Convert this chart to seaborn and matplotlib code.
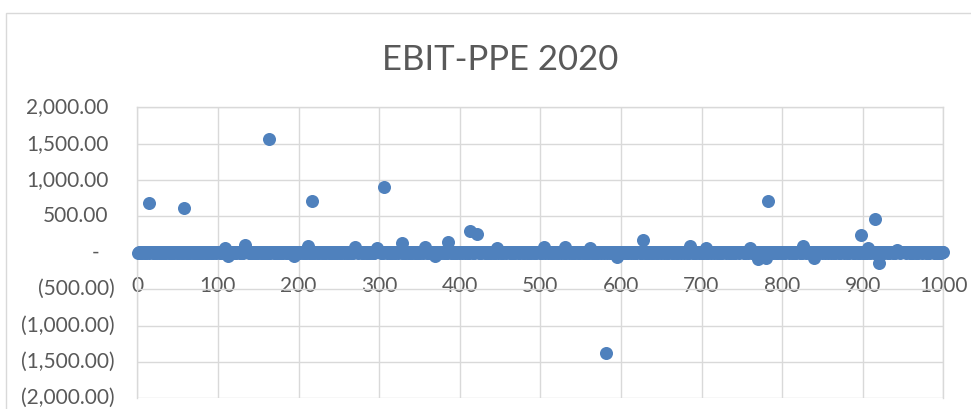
import numpy as np
import pandas as pd
import matplotlib
matplotlib.use("Agg")
import matplotlib.pyplot as plt
import matplotlib.transforms as mtransforms
from matplotlib.patches import Rectangle
import seaborn as sns

# EBIT / PPE ratio per firm (firms numbered 1..1000), most close to zero
baseline = [
    4, 9, -2, 6, 13, 1, 5, 8, -4, 10, 3, 7, 15, 2, -3, 11, 5, 9, 0, 7, 12, -1, 4, 6, 10,
    8, 3, 14, -4, 7, 2, 11, 0, 6, 9, -2, 13, 5, 1, 10, 7, -6, 3, 12, 8, 2, 6, 14, 0, 5,
    11, -3, 6, 9, 2, 16, 4, -1, 8, 12, 3, 7, 0, 10, 5, -5, 9, 13, 2, 6, 8, -2, 11, 4, 7,
    2, 10, 5, -7, 12, 8, 1, 6, 15, 3, -1, 9, 4, 11, 7, 0, 13, 6, -3, 8, 5, 10, 2, 14, 6,
    9, 1, 7, 12, -2, 5, 10, 3, 8, -4, 11, 6, 2, 15, 7, 4, -1, 9, 12, 3, 6, 0, 10, 5, 8,
    6, 13, 0, 4, 9, -3, 7, 11, 2, 5, 14, 8, -2, 6, 10, 1, 12, 4, 7, -5, 9, 3, 11, 6, 2,
    12, 5, 8, -1, 10, 3, 6, 14, 0, 9, 4, -6, 11, 7, 2, 13, 5, 8, -2, 10, 6, 1, 9, 15, 3,
    0, 7, 11, 4, -3, 9, 6, 12, 2, 8, 5, -1, 14, 3, 10, 7, 0, 6, 11, -4, 8, 2, 13, 5, 9,
    7, -2, 10, 5, 13, 1, 8, 4, -5, 11, 6, 9, 2, 15, 0, 7, 12, 3, -1, 9, 5, 10, 4, 8, 14,
    3, 11, 6, 0, 9, 14, -3, 7, 2, 12, 5, 8, -1, 10, 4, 6, 13, 1, 9, -4, 7, 11, 3, 5, 10,
    10, 4, -2, 8, 13, 6, 1, 11, 5, -5, 9, 3, 14, 7, 0, 12, 6, 2, 10, -3, 8, 5, 13, 1, 7,
    5, 12, 8, 2, -1, 10, 6, 15, 3, 9, -4, 7, 11, 0, 6, 13, 4, 8, -2, 12, 5, 1, 9, 6, 11,
    8, 0, 13, 6, 3, -6, 11, 5, 9, 2, 14, 7, -1, 10, 4, 8, 12, 3, 6, -3, 11, 7, 2, 9, 5,
    13, 6, 1, 10, 7, 4, -2, 12, 8, 5, 0, 11, 3, 9, 15, -4, 6, 10, 2, 8, 13, 4, -1, 7, 11,
    2, 9, 14, -3, 6, 11, 5, 8, 1, 13, 7, -5, 10, 4, 12, 6, 0, 9, 3, 14, -2, 8, 5, 11, 6,
    9, 4, 7, 12, 0, 8, 15, 3, -2, 10, 6, 11, 5, -6, 9, 13, 2, 7, 4, 10, 1, 12, 8, -3, 6,
    6, 11, 3, 9, 14, -1, 5, 8, 12, 2, 7, -4, 10, 6, 13, 0, 9, 4, 11, 7, -2, 5, 14, 3, 8,
    11, -3, 8, 5, 10, 2, 13, 7, 0, 9, 4, 12, 6, -5, 11, 8, 3, 14, 1, 7, 10, 5, -1, 9, 12,
    4, 8, 12, 1, 7, 10, -2, 6, 13, 5, 9, 0, 11, 3, 8, -4, 12, 6, 2, 10, 7, 15, 4, -1, 9,
    7, 13, 2, 10, -3, 6, 9, 4, 12, 8, 1, 14, 5, -2, 10, 7, 3, 11, 6, 0, 9, 13, 5, 8, -5,
    10, 3, 6, 14, 8, -1, 11, 5, 2, 9, 13, 7, -4, 12, 4, 8, 0, 10, 6, 15, 3, -2, 9, 11, 5,
    1, 9, 12, 5, -2, 8, 4, 13, 7, 0, 10, 6, 11, -5, 3, 9, 14, 2, 8, 5, 12, -1, 7, 4, 10,
    12, 6, -3, 9, 4, 11, 7, 2, 14, 8, -1, 5, 10, 3, 13, 6, 0, 9, -4, 11, 7, 2, 12, 8, 4,
    5, 10, 8, 0, 13, 3, 9, -2, 6, 11, 4, 15, 7, 1, -3, 10, 5, 12, 8, 2, 6, 9, -1, 13, 7,
    8, 2, 11, 6, 9, -4, 12, 5, 3, 10, 7, 0, 14, 6, 9, 2, -2, 11, 4, 8, 13, 5, 10, -3, 6,
    3, 12, 5, 9, 1, 7, 14, -1, 10, 4, 8, 11, 2, 6, -5, 13, 9, 3, 7, 12, 0, 8, 5, 10, 4,
    9, 6, 13, -2, 8, 11, 4, 7, 0, 12, 5, 10, -3, 9, 3, 14, 6, 1, 11, 8, -1, 7, 12, 4, 10,
    6, 14, 1, 8, 11, 5, -4, 10, 7, 2, 13, 6, 9, 0, 12, 4, 8, -2, 10, 5, 15, 3, 7, 11, -1,
    11, 4, 9, 7, -1, 12, 6, 3, 10, 8, 14, -3, 5, 11, 2, 9, 7, 13, 0, 6, 10, 4, -5, 8, 12,
    2, 8, 6, 13, 10, 0, 7, 12, -2, 5, 9, 4, 11, 15, 3, -1, 8, 6, 12, 10, 2, 7, 14, 5, 9,
    13, 7, 3, -3, 9, 6, 11, 1, 8, 14, 5, 10, 0, 7, -4, 12, 4, 9, 6, 11, 3, 8, -2, 13, 6,
    7, 0, 10, 12, 5, 8, -1, 14, 4, 9, 2, 11, 6, -6, 10, 8, 13, 3, 7, 0, 12, 5, 9, 4, 11,
    4, 11, 7, 2, 14, 9, 5, -2, 12, 6, 10, 3, 8, 13, 1, 7, -4, 11, 5, 9, 14, 2, 6, 10, 0,
    10, 5, 12, 8, 0, 6, 13, 9, 3, -3, 11, 7, 4, 10, 14, 2, 8, 6, -1, 12, 5, 9, 11, 3, 7,
    5, 13, -1, 9, 7, 11, 2, 6, 14, 8, 0, 12, 5, 3, 9, -5, 10, 7, 13, 4, 8, 1, 11, 6, 12,
    8, 3, 10, 6, 12, -2, 9, 4, 11, 7, 13, 5, -3, 8, 2, 14, 6, 10, 0, 9, 11, 4, 7, 12, 3,
    12, 7, 4, 11, 2, 9, 15, 6, 0, 10, 5, 8, 12, -4, 7, 3, 11, 9, 5, 13, -1, 6, 10, 2, 8,
    1, 10, 8, 14, 5, 3, 11, -2, 7, 9, 12, 4, 6, 10, 0, 13, 8, 2, 11, 6, -3, 9, 5, 12, 7,
    9, 5, 12, 0, 8, 13, 6, 10, 4, -1, 11, 7, 3, 14, 9, 2, 12, 5, -4, 8, 10, 6, 13, 1, 7,
    6, 12, 2, 9, 11, 4, -2, 8, 13, 5, 10, 7, 0, 11, 6, 14, 3, 9, -1, 12, 8, 4, 10, 7, 5,
]

# firms whose ratio stands out from the rest
outlier_firms = [14, 58, 109, 113, 134, 163, 194, 212, 217, 270, 297, 306, 329,
                 357, 369, 386, 413, 421, 446, 504, 531, 562, 581, 595, 628, 686,
                 706, 760, 770, 780, 782, 826, 839, 898, 906, 915, 920, 943]
outlier_values = [680, 610, 65, -40, 110, 1560, -50, 90, 710, 75, 60, 910, 130,
                  80, -45, 155, 295, 265, 60, 85, 75, 60, -1375, -55, 170, 95,
                  60, 65, -85, -70, 710, 95, -65, 240, 70, 470, -135, 45]

x_ticks = list(range(0, 1001, 100))
y_ticks = list(range(-2000, 2001, 500))

ratio = list(baseline)
for firm, val in zip(outlier_firms, outlier_values):
    ratio[firm - 1] = val
df = pd.DataFrame({"firm": np.arange(1, len(ratio) + 1), "ebit_ppe": ratio})

sns.set_style("white")
plt.rcParams["font.family"] = ["Lato", "DejaVu Sans"]

GRID = "#D9D9D9"
TEXT = "#595959"
BLUE = "#4F81BD"

fig = plt.figure(figsize=(9.71, 4.09), dpi=100)
ax = fig.add_axes([137.3 / 971, 1 - 398.3 / 409, (943.3 - 137.3) / 971, (398.3 - 107.3) / 409])

sns.scatterplot(data=df, x="firm", y="ebit_ppe", ax=ax, s=88, color=BLUE,
                edgecolor=BLUE, linewidth=0, clip_on=False, zorder=3, legend=False)

ax.set_xlim(0, 1000)
ax.set_ylim(-2000, 2000)
ax.set_xlabel("")
ax.set_ylabel("")
ax.set_axisbelow(True)
ax.grid(True, color=GRID, linewidth=1.0)

for side in ["left", "right", "top"]:
    ax.spines[side].set_color(GRID)
    ax.spines[side].set_linewidth(1.0)
ax.spines["bottom"].set_position(("data", 0))
ax.spines["bottom"].set_color(GRID)
ax.spines["bottom"].set_linewidth(1.0)

ax.set_xticks(x_ticks)
ax.set_xticklabels([str(t) for t in x_ticks])
ax.tick_params(axis="x", length=0, pad=17, labelsize=15, labelcolor=TEXT)

# accounting-style labels on the value axis
ax.set_yticks(y_ticks)
ax.set_yticklabels([])
ax.tick_params(axis="y", length=0)
ytrans = ax.get_yaxis_transform()
for v in y_ticks:
    if v > 0:
        label, dx, ha = f"{v:,.2f}", -29, "right"
    elif v < 0:
        label, dx, ha = f"({-v:,.2f})", -23, "right"
    else:
        label, dx, ha = "-", -42, "center"
    off = mtransforms.ScaledTranslation(dx / 100, 0, fig.dpi_scale_trans)
    ax.text(0, v, label, transform=ytrans + off, ha=ha, va="center",
            fontsize=15, color=TEXT, clip_on=False)

fig.text(500 / 971, 1 - 70 / 409, "EBIT-PPE 2020", ha="center", va="baseline",
         fontsize=25, color=TEXT, fontweight="normal")

# chart area frame
fig.add_artist(Rectangle((6 / 971, -0.2), 1.2, 1.2 - 13 / 409, transform=fig.transFigure,
                         fill=False, edgecolor=GRID, linewidth=1.0))

fig.savefig("out.png", dpi=100, facecolor="white")
